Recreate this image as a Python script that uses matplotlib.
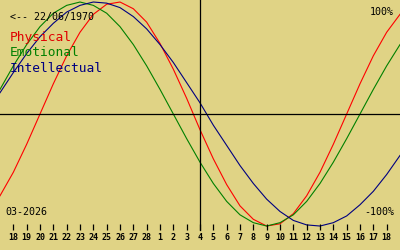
import matplotlib
matplotlib.use("Agg")
import matplotlib.pyplot as plt

# days shown (Feb 17 .. Mar 19), curves run one day past each edge
days = [17, 18, 19, 20, 21, 22, 23, 24, 25, 26, 27, 28,
        1, 2, 3, 4, 5, 6, 7, 8, 9, 10, 11, 12, 13, 14, 15, 16, 17, 18, 19]

physical = [-0.73, -0.52, -0.27, 0.00, 0.27, 0.52, 0.73, 0.89, 0.98, 1.00,
            0.94, 0.82, 0.63, 0.40, 0.14, -0.14, -0.40, -0.63, -0.82, -0.94,
            -1.00, -0.98, -0.89, -0.73, -0.52, -0.27, 0.00, 0.27, 0.52, 0.73, 0.89]
emotional = [0.22, 0.43, 0.62, 0.78, 0.90, 0.97, 1.00, 0.97, 0.90, 0.78,
             0.62, 0.43, 0.22, 0.00, -0.22, -0.43, -0.62, -0.78, -0.90, -0.97,
             -1.00, -0.97, -0.90, -0.78, -0.62, -0.43, -0.22, 0.00, 0.22, 0.43, 0.62]
intellectual = [0.19, 0.37, 0.54, 0.69, 0.81, 0.91, 0.97, 1.00, 0.99, 0.95,
                0.87, 0.76, 0.62, 0.46, 0.28, 0.10, -0.10, -0.28, -0.46, -0.62,
                -0.76, -0.87, -0.95, -0.99, -1.00, -0.97, -0.91, -0.81, -0.69, -0.54, -0.37]

birth = "22/06/1970"
month = "03-2026"
today = 14  # index of the 4th

bg = "#e0d385"
mono = "DejaVu Sans Mono"

fig = plt.figure(figsize=(4, 2.5), dpi=100, facecolor=bg)
ax = fig.add_axes([0, 0, 1, 1])
ax.set_facecolor(bg)

x = list(range(-1, len(days) - 1))
ax.plot(x, physical, color="#ff0000", lw=0.8)
ax.plot(x, emotional, color="#008000", lw=0.8)
ax.plot(x, intellectual, color="#000080", lw=0.8)

ax.set_xlim(-1, 29)
ax.set_ylim(-1.214, 1.018)
ax.axhline(0, color="black", lw=0.9)
ax.axvline(today, ymin=0.08, ymax=1, color="black", lw=0.9)

# day ticks along the bottom
tr = ax.get_xaxis_transform()
ticks = x[1:-1]
ax.vlines(ticks, 0.08, 0.104, color="black", lw=0.9, transform=tr)
for t, d in zip(ticks, days[1:-1]):
    ax.text(t, 0.048, str(d), transform=tr, ha="center", va="center",
            fontsize=6, fontweight="bold", family=mono)

ax.text(10 / 400, 1 - 17 / 250, "<-- " + birth, transform=ax.transAxes,
        va="center", fontsize=7.2, family=mono)
names = ["Physical", "Emotional", "Intellectual"]
cols = ["#e00000", "#008000", "#000080"]
for k, (n, c) in enumerate(zip(names, cols)):
    ax.text(10 / 400, 1 - (38 + 15 * k) / 250, n, transform=ax.transAxes,
            va="center", fontsize=9.3, family=mono, color=c)

ax.text(394 / 400, 1 - 12 / 250, "100%", transform=ax.transAxes,
        ha="right", va="center", fontsize=7.2, family=mono)
ax.text(394 / 400, 1 - 212 / 250, "-100%", transform=ax.transAxes,
        ha="right", va="center", fontsize=7.2, family=mono)
ax.text(5 / 400, 1 - 212 / 250, month, transform=ax.transAxes,
        va="center", fontsize=7.2, family=mono)

ax.axis("off")
fig.savefig("out.png", dpi=100, facecolor=bg)
